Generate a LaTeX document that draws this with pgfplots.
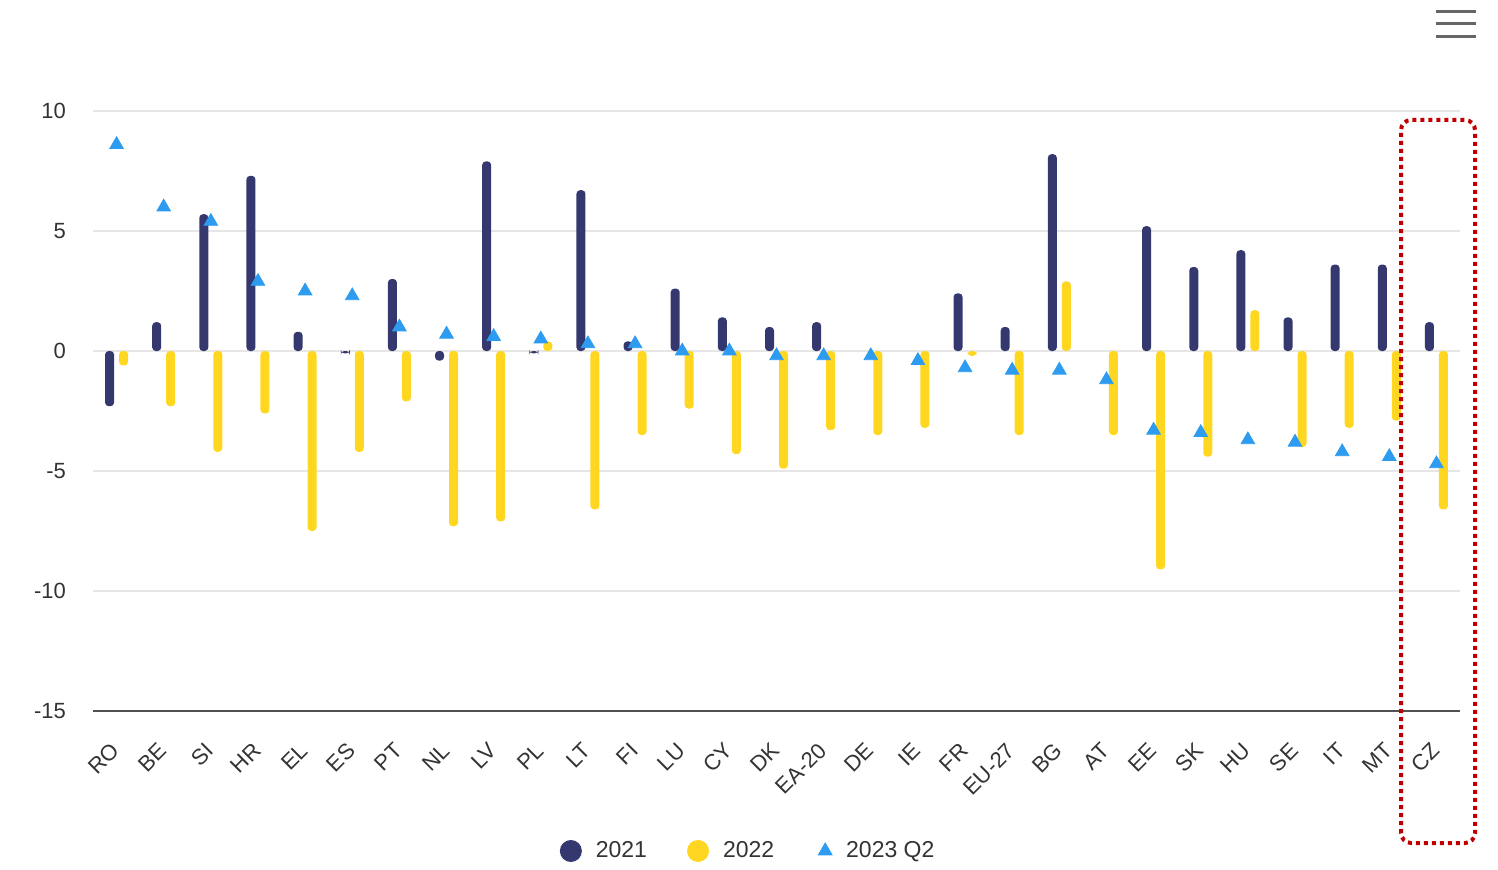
\documentclass[border=0pt]{standalone}
\usepackage{fontspec}
\setmainfont{Liberation Sans}
\usepackage{pgfplots}
\usepackage{pgfplotstable}
\pgfplotsset{compat=1.18}
\definecolor{navy}{RGB}{52,56,110}
\definecolor{gold}{RGB}{255,214,32}
\definecolor{tri}{RGB}{44,155,240}
\definecolor{gridc}{RGB}{230,230,230}
\definecolor{txt}{RGB}{51,51,51}
\definecolor{ann}{RGB}{192,0,0}
\definecolor{axc}{RGB}{80,80,80}

\pgfplotstableread{
idx name a b c
0 RO -2.3 -0.6 8.6
1 BE 1.2 -2.3 6.0
2 SI 5.7 -4.2 5.4
3 HR 7.3 -2.6 2.9
4 EL 0.8 -7.5 2.5
5 ES -0.1 -4.2 2.3
6 PT 3.0 -2.1 1.0
7 NL -0.4 -7.3 0.7
8 LV 7.9 -7.1 0.6
9 PL -0.1 0.4 0.5
10 LT 6.7 -6.6 0.3
11 FI 0.4 -3.5 0.3
12 LU 2.6 -2.4 0.0
13 CY 1.4 -4.3 0.0
14 DK 1.0 -4.9 -0.2
15 EA-20 1.2 -3.3 -0.2
16 DE 0.0 -3.5 -0.2
17 IE 0.0 -3.2 -0.4
18 FR 2.4 -0.2 -0.7
19 EU-27 1.0 -3.5 -0.8
20 BG 8.2 2.9 -0.8
21 AT 0.0 -3.5 -1.2
22 EE 5.2 -9.1 -3.3
23 SK 3.5 -4.4 -3.4
24 HU 4.2 1.7 -3.7
25 SE 1.4 -4.0 -3.8
26 IT 3.6 -3.2 -4.2
27 MT 3.6 -2.9 -4.4
28 CZ 1.2 -6.6 -4.7
}\datatable

\begin{document}
\begin{tikzpicture}
\begin{axis}[
  at={(46.5pt,79pt)}, anchor=south west,
  width=683.5pt, height=300pt, scale only axis,
  xmin=-0.5, xmax=28.5, ymin=-15, ymax=10,
  ytick={-15,-10,...,10},
  xtick={0,...,28},
  xticklabels={RO,BE,SI,HR,EL,ES,PT,NL,LV,PL,LT,FI,LU,CY,DK,EA-20,DE,IE,FR,EU-27,BG,AT,EE,SK,HU,SE,IT,MT,CZ},
  axis x line*=bottom, axis y line*=left,
  x axis line style={draw=axc, line width=0.8pt, -},
  y axis line style={draw=none},
  ymajorgrids, grid style={draw=gridc, line width=0.6pt},
  major tick length=0pt, tick style={draw=none},
  yticklabel style={font=\fontsize{11}{13}\selectfont, text=txt, xshift=-10pt},
  xticklabel style={font=\fontsize{11}{13}\selectfont, text=txt, xshift=2pt, yshift=-15.5pt, rotate=45, anchor=east},
  /pgf/number format/assume math mode=true,
  legend style={at={(0.48,-0.2333)}, anchor=center, draw=none, fill=none,
    legend columns=-1, font=\fontsize{11.5}{13}\selectfont, text=txt,
    /tikz/every even column/.append style={column sep=18pt}},
  clip=false,
]
\addplot[ybar, bar width=4.5pt, bar shift=-3.5pt, fill=navy, draw=none, rounded corners=1.8pt,
  y filter/.expression={y==0 ? nan : y}, unbounded coords=discard,
  legend image code/.code={\fill[navy] (5.5pt,0) circle (5.5pt); \path[draw=none,fill=none] (0,0) -- (16pt,0);}]
  table[x=idx, y=a] {\datatable};
\addlegendentry{2021}
\addplot[ybar, bar width=4.5pt, bar shift=3.5pt, fill=gold, draw=none, rounded corners=1.8pt,
  y filter/.expression={y==0 ? nan : y}, unbounded coords=discard,
  legend image code/.code={\fill[gold] (5.5pt,0) circle (5.5pt); \path[draw=none,fill=none] (0,0) -- (16pt,0);}]
  table[x=idx, y=b] {\datatable};
\addlegendentry{2022}
\addplot[only marks, mark=triangle*, mark size=3.9pt, color=tri,
  legend image code/.code={\fill[tri] (5.5pt,0) ++(90:4pt) -- ++(-120:6.9pt) -- ++(0:6.9pt) -- cycle; \path[draw=none,fill=none] (0,0) -- (14pt,0);}]
  table[x=idx, y=c] {\datatable};
\addlegendentry{2023 Q2}
\end{axis}
% menu icon
\draw[line width=1.5pt, draw=black!60] (718pt,428.5pt) -- (738pt,428.5pt);
\draw[line width=1.5pt, draw=black!60] (718pt,422.5pt) -- (738pt,422.5pt);
\draw[line width=1.5pt, draw=black!60] (718pt,416pt) -- (738pt,416pt);
% highlight box
\draw[ann, line width=2pt, dash pattern=on 2pt off 2pt, rounded corners=5pt]
  (700.5pt,13pt) rectangle (737.5pt,374.5pt);
\pgfresetboundingbox
\path (0,0) rectangle (749pt,434.5pt);
\end{tikzpicture}
\end{document}
